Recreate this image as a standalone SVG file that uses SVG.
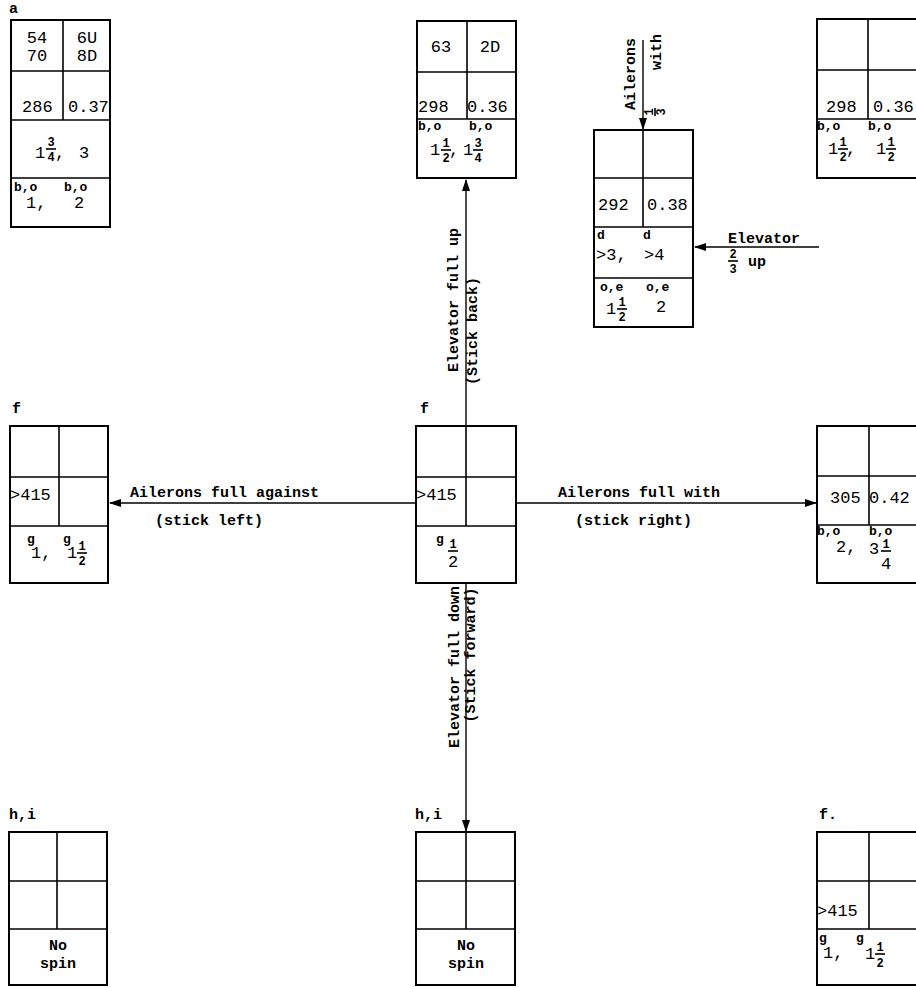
<svg xmlns="http://www.w3.org/2000/svg" width="916" height="988" viewBox="0 0 916 988">
<style>
.box{fill:none;stroke:#000;stroke-width:2}
.dv{stroke:#000;stroke-width:1.6;fill:none}
.fr{stroke:#000;stroke-width:1.6}
.ln{stroke:#000;stroke-width:1.4;fill:none}
text{font-family:"Liberation Mono","DejaVu Sans Mono",monospace;fill:#000}
.n{font-size:17px}
.s{font-size:13px}
.f{font-size:12px;font-weight:bold}
.b{font-size:15px;font-weight:bold}
.t{font-size:15px;font-weight:bold}
</style>
<defs>
<marker id="ah" markerWidth="12" markerHeight="8" refX="11" refY="4" orient="auto" markerUnits="userSpaceOnUse">
<path d="M0,0 L12,4 L0,8 Z" fill="#000"/>
</marker>
</defs>
<rect width="916" height="988" fill="#fff"/>

<g id="connectors">
<line class="ln" x1="466" y1="426" x2="466" y2="180" marker-end="url(#ah)"/>
<line class="ln" x1="466" y1="583" x2="466" y2="831" marker-end="url(#ah)"/>
<line class="ln" x1="416" y1="503" x2="110" y2="503" marker-end="url(#ah)"/>
<line class="ln" x1="516" y1="503" x2="816" y2="503" marker-end="url(#ah)"/>
<line class="ln" x1="643" y1="40" x2="643" y2="129" marker-end="url(#ah)"/>
<line class="ln" x1="819" y1="247" x2="695" y2="247" marker-end="url(#ah)"/>
<text class="t" transform="translate(458,300) rotate(-90)" text-anchor="middle">Elevator full up</text>
<text class="t" transform="translate(477,331) rotate(-90)" text-anchor="middle">(Stick back)</text>
<text class="t" transform="translate(459,667) rotate(-90)" text-anchor="middle">Elevator full down</text>
<text class="t" transform="translate(475,655) rotate(-90)" text-anchor="middle">(Stick forward)</text>
<text class="t" x="130" y="497">Ailerons full against</text>
<text class="t" x="155" y="525">(stick left)</text>
<text class="t" x="558" y="497">Ailerons full with</text>
<text class="t" x="575" y="525">(stick right)</text>
<text class="t" transform="translate(635,74) rotate(-90)" text-anchor="middle">Ailerons</text>
<text class="t" transform="translate(661,52) rotate(-90)" text-anchor="middle">with</text>
<g transform="translate(655,112) rotate(-90)">
<text class="f" x="0" y="-2" text-anchor="middle">1</text>
<line class="fr" x1="-4" y1="0" x2="4" y2="0"/>
<text class="f" x="0" y="10" text-anchor="middle">3</text>
</g>
<text class="t" x="728" y="243">Elevator</text>
<text class="f" x="733" y="258" text-anchor="middle">2</text>
<line class="fr" x1="728" y1="261" x2="738" y2="261"/>
<text class="f" x="733" y="273" text-anchor="middle">3</text>
<text class="t" x="748" y="266">up</text>
</g>

<g id="node-a">
<text class="b" x="9" y="13">a</text>
<rect class="box" x="11" y="20" width="99" height="207"/>
<line class="dv" x1="11" y1="71" x2="110" y2="71"/>
<line class="dv" x1="11" y1="120" x2="110" y2="120"/>
<line class="dv" x1="11" y1="178" x2="110" y2="178"/>
<line class="dv" x1="63" y1="20" x2="63" y2="120"/>
<text class="n" x="37" y="43" text-anchor="middle" font-size="15">54</text>
<text class="n" x="37" y="61" text-anchor="middle" font-size="15">70</text>
<text class="n" x="87" y="43" text-anchor="middle" font-size="15">6U</text>
<text class="n" x="87" y="61" text-anchor="middle" font-size="15">8D</text>
<text class="n" x="22" y="112">286</text>
<text class="n" x="68" y="112">0.37</text>
<text class="n" x="35" y="158">1</text>
<text class="f" x="51" y="146" text-anchor="middle">3</text>
<line class="fr" x1="46" y1="149" x2="56" y2="149"/>
<text class="f" x="51" y="161" text-anchor="middle">4</text>
<text class="n" x="55" y="158">,</text>
<text class="n" x="79" y="158">3</text>
<text class="s" x="14" y="191" font-weight="bold">b,o</text>
<text class="s" x="64" y="191" font-weight="bold">b,o</text>
<text class="n" x="26" y="208">1,</text>
<text class="n" x="74" y="208">2</text>
</g>

<g id="node-top">
<rect class="box" x="417" y="21" width="99" height="157"/>
<line class="dv" x1="417" y1="72" x2="516" y2="72"/>
<line class="dv" x1="417" y1="119" x2="516" y2="119"/>
<line class="dv" x1="467" y1="21" x2="467" y2="119"/>
<text class="n" x="441" y="52" text-anchor="middle">63</text>
<text class="n" x="490" y="52" text-anchor="middle">2D</text>
<text class="n" x="418" y="112">298</text>
<text class="n" x="467" y="112">0.36</text>
<text class="s" x="418" y="130" font-weight="bold">b,o</text>
<text class="s" x="469" y="130" font-weight="bold">b,o</text>
<text class="n" x="430" y="155">1</text>
<text class="f" x="446" y="147" text-anchor="middle">1</text>
<line class="fr" x1="441" y1="150" x2="451" y2="150"/>
<text class="f" x="446" y="162" text-anchor="middle">2</text>
<text class="n" x="449" y="155">,</text>
<text class="n" x="463" y="155">1</text>
<text class="f" x="478" y="147" text-anchor="middle">3</text>
<line class="fr" x1="473" y1="150" x2="483" y2="150"/>
<text class="f" x="478" y="162" text-anchor="middle">4</text>
</g>

<g id="node-topright">
<rect class="box" x="817" y="19" width="102" height="159"/>
<line class="dv" x1="817" y1="70" x2="919" y2="70"/>
<line class="dv" x1="817" y1="119" x2="919" y2="119"/>
<line class="dv" x1="868" y1="19" x2="868" y2="119"/>
<text class="n" x="826" y="112">298</text>
<text class="n" x="873" y="112">0.36</text>
<text class="s" x="817" y="130" font-weight="bold">b,o</text>
<text class="s" x="868" y="130" font-weight="bold">b,o</text>
<text class="n" x="828" y="154">1</text>
<text class="f" x="843" y="146" text-anchor="middle">1</text>
<line class="fr" x1="838" y1="149" x2="848" y2="149"/>
<text class="f" x="843" y="161" text-anchor="middle">2</text>
<text class="n" x="846" y="154">,</text>
<text class="n" x="876" y="154">1</text>
<text class="f" x="891" y="146" text-anchor="middle">1</text>
<line class="fr" x1="886" y1="149" x2="896" y2="149"/>
<text class="f" x="891" y="161" text-anchor="middle">2</text>
</g>

<g id="node-mid">
<rect class="box" x="594" y="130" width="99" height="197"/>
<line class="dv" x1="594" y1="178" x2="693" y2="178"/>
<line class="dv" x1="594" y1="227" x2="693" y2="227"/>
<line class="dv" x1="594" y1="278" x2="693" y2="278"/>
<line class="dv" x1="643" y1="130" x2="643" y2="227"/>
<text class="n" x="598" y="210">292</text>
<text class="n" x="647" y="210">0.38</text>
<text class="s" x="597" y="239" font-weight="bold">d</text>
<text class="s" x="643" y="239" font-weight="bold">d</text>
<text class="n" x="596" y="260">&gt;3,</text>
<text class="n" x="644" y="260">&gt;4</text>
<text class="s" x="600" y="291" font-weight="bold">o,e</text>
<text class="s" x="646" y="291" font-weight="bold">o,e</text>
<text class="n" x="606" y="314">1</text>
<text class="f" x="622" y="306" text-anchor="middle">1</text>
<line class="fr" x1="617" y1="309" x2="627" y2="309"/>
<text class="f" x="622" y="321" text-anchor="middle">2</text>
<text class="n" x="656" y="312">2</text>
</g>

<g id="node-left">
<text class="b" x="12" y="413">f</text>
<rect class="box" x="10" y="426" width="98" height="157"/>
<line class="dv" x1="10" y1="477" x2="108" y2="477"/>
<line class="dv" x1="10" y1="526" x2="108" y2="526"/>
<line class="dv" x1="59" y1="426" x2="59" y2="526"/>
<text class="n" x="10" y="500">&gt;415</text>
<text class="s" x="27" y="543" font-weight="bold">g</text>
<text class="n" x="31" y="558">1,</text>
<text class="s" x="63" y="543" font-weight="bold">g</text>
<text class="n" x="67" y="558">1</text>
<text class="f" x="82" y="550" text-anchor="middle">1</text>
<line class="fr" x1="77" y1="553" x2="87" y2="553"/>
<text class="f" x="82" y="565" text-anchor="middle">2</text>
</g>

<g id="node-center">
<text class="b" x="420" y="413">f</text>
<rect class="box" x="416" y="426" width="100" height="157"/>
<line class="dv" x1="416" y1="477" x2="516" y2="477"/>
<line class="dv" x1="416" y1="526" x2="516" y2="526"/>
<line class="dv" x1="466" y1="426" x2="466" y2="526"/>
<text class="n" x="416" y="500">&gt;415</text>
<text class="s" x="436" y="543" font-weight="bold">g</text>
<text class="f" x="453" y="548" text-anchor="middle">1</text>
<line class="fr" x1="448" y1="551" x2="458" y2="551"/>
<text class="n" x="453" y="567" text-anchor="middle">2</text>
</g>

<g id="node-right">
<rect class="box" x="817" y="426" width="102" height="157"/>
<line class="dv" x1="817" y1="476" x2="919" y2="476"/>
<line class="dv" x1="817" y1="525" x2="919" y2="525"/>
<line class="dv" x1="869" y1="426" x2="869" y2="525"/>
<text class="n" x="830" y="503">305</text>
<text class="n" x="869" y="503">0.42</text>
<text class="s" x="817" y="535" font-weight="bold">b,o</text>
<text class="s" x="869" y="535" font-weight="bold">b,o</text>
<text class="n" x="836" y="552">2,</text>
<text class="n" x="869" y="554">3</text>
<text class="f" x="886" y="548" text-anchor="middle">1</text>
<line class="fr" x1="881" y1="551" x2="891" y2="551"/>
<text class="n" x="886" y="569" text-anchor="middle">4</text>
</g>

<g id="node-bl">
<text class="b" x="9" y="819">h,i</text>
<rect class="box" x="9" y="832" width="98" height="153"/>
<line class="dv" x1="9" y1="881" x2="107" y2="881"/>
<line class="dv" x1="9" y1="929" x2="107" y2="929"/>
<line class="dv" x1="57" y1="832" x2="57" y2="929"/>
<text class="b" x="58" y="950" text-anchor="middle" font-size="14">No</text>
<text class="b" x="58" y="968" text-anchor="middle" font-size="14">spin</text>
</g>

<g id="node-bc">
<text class="b" x="415" y="819">h,i</text>
<rect class="box" x="416" y="832" width="99" height="153"/>
<line class="dv" x1="416" y1="881" x2="515" y2="881"/>
<line class="dv" x1="416" y1="929" x2="515" y2="929"/>
<line class="dv" x1="466" y1="832" x2="466" y2="929"/>
<text class="b" x="466" y="950" text-anchor="middle" font-size="14">No</text>
<text class="b" x="466" y="968" text-anchor="middle" font-size="14">spin</text>
</g>

<g id="node-br">
<text class="b" x="819" y="819">f.</text>
<rect class="box" x="817" y="832" width="102" height="153"/>
<line class="dv" x1="817" y1="881" x2="919" y2="881"/>
<line class="dv" x1="817" y1="929" x2="919" y2="929"/>
<line class="dv" x1="869" y1="832" x2="869" y2="929"/>
<text class="n" x="817" y="916">&gt;415</text>
<text class="s" x="819" y="942" font-weight="bold">g</text>
<text class="n" x="823" y="958">1,</text>
<text class="s" x="856" y="942" font-weight="bold">g</text>
<text class="n" x="865" y="959">1</text>
<text class="f" x="880" y="951" text-anchor="middle">1</text>
<line class="fr" x1="875" y1="954" x2="885" y2="954"/>
<text class="f" x="880" y="967" text-anchor="middle">2</text>
</g>
</svg>
